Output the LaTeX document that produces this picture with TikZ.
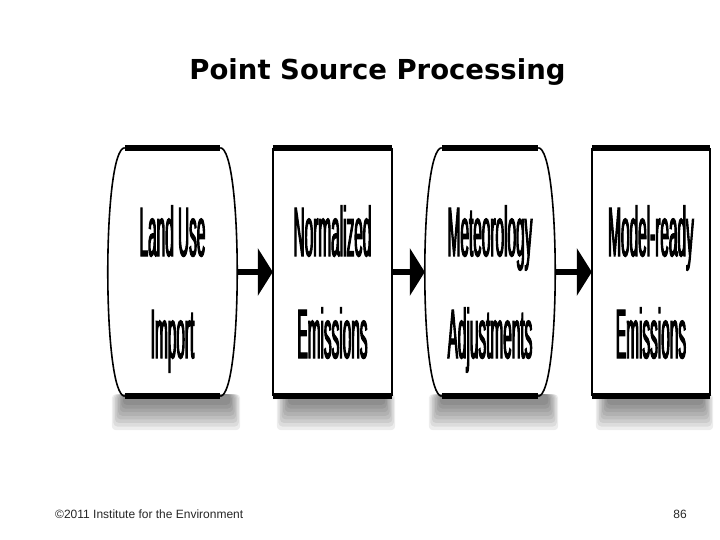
\documentclass[tikz,border=0pt]{standalone}
\usepackage{fontspec}
\setmainfont{Liberation Sans}
\newfontfamily\narrowfont{Liberation Sans}[FakeStretch=0.22, FakeBold=1.4]
\newfontfamily\titlefont{DejaVu Sans}
\usetikzlibrary{arrows.meta, positioning, calc}

\begin{document}
\begin{tikzpicture}[
    x=1pt, y=1pt,
    box/.style={minimum width=#1, minimum height=248pt, inner sep=0pt, fill=white},
    lbl/.style={font=\narrowfont\fontsize{70}{102}\selectfont, align=center, inner sep=0pt},
    edge/.style={line width=5.5pt},
    side/.style={line width=1.6pt},
    flow/.style={line width=6pt, -{Triangle[length=15pt, width=47pt]}},
    haze/.style={fill=black, opacity=0.07, rounded corners=4pt}
]
    \useasboundingbox (0,0) rectangle (720,540);

    \node[font=\titlefont\bfseries\fontsize{27.5}{33}\selectfont, anchor=base] (title) at (377.5,460) {Point Source Processing};

    % the four stages
    \node[box=129pt] (lu) at (172.5,268) {};
    \node[box=119pt] (ne) at (332.5,268) {};
    \node[box=130pt] (ma) at (490,268) {};
    \node[box=118pt] (me) at (651,268) {};

    % soft shadows under the boxes
    \foreach \b in {lu,ne,ma,me}
        \foreach \k in {0,...,7}
            \fill[haze] ($(\b.south west)+(4+1.6*\k,2)$) rectangle ($(\b.south east)+(3-1.4*\k,-34+3.6*\k)$);

    % curved sides
    \foreach \b in {lu,ma} {
        \draw[side] ($(\b.north west)+(17,0)$) .. controls ($(\b.north west)+(-5.7,0)$) and ($(\b.south west)+(-5.7,0)$) .. ($(\b.south west)+(17,0)$);
        \draw[side] ($(\b.north east)+(-17,0)$) .. controls ($(\b.north east)+(5.7,0)$) and ($(\b.south east)+(5.7,0)$) .. ($(\b.south east)+(-17,0)$);
    }
    % straight sides
    \foreach \b in {ne,me} {
        \draw[side] (\b.north west) -- (\b.south west);
        \draw[side, line width=2.4pt] (\b.north east) -- (\b.south east);
    }
    % heavy top and bottom edges
    \foreach \b/\i in {lu/17,ne/0,ma/17,me/0} {
        \draw[edge] ($(\b.north west)+(\i,0)$) -- ($(\b.north east)+(-\i,0)$);
        \draw[edge] ($(\b.south west)+(\i,0)$) -- ($(\b.south east)+(-\i,0)$);
    }

    \node[lbl] (lu-text) at ($(lu.center)+(0,-17)$) {\vphantom{Ld}Land Use\\Import\vphantom{Ip}};
    \node[lbl] (ne-text) at ($(ne.center)+(0,-17)$) {\vphantom{Ld}Normalized\\Emissions\vphantom{Ip}};
    \node[lbl] (ma-text) at ($(ma.center)+(0,-17)$) {\vphantom{Ld}Meteorology\\Adjustments\vphantom{Ip}};
    \node[lbl] (me-text) at ($(me.center)+(0,-17)$) {\vphantom{Ld}Model-ready\\Emissions\vphantom{Ip}};

    \draw[flow] (lu.east) -- (ne.west);
    \draw[flow] (ne.east) -- (ma.west);
    \draw[flow] (ma.east) -- (me.west);

    \node[font=\fontsize{12}{14}\selectfont, text=black!85, anchor=base west, inner sep=0pt] (copy) at (55,21) {©2011 Institute for the Environment};
    \node[font=\fontsize{12}{14}\selectfont, text=black!85, anchor=base east, inner sep=0pt] (page) at (687,21) {86};
\end{tikzpicture}
\end{document}
